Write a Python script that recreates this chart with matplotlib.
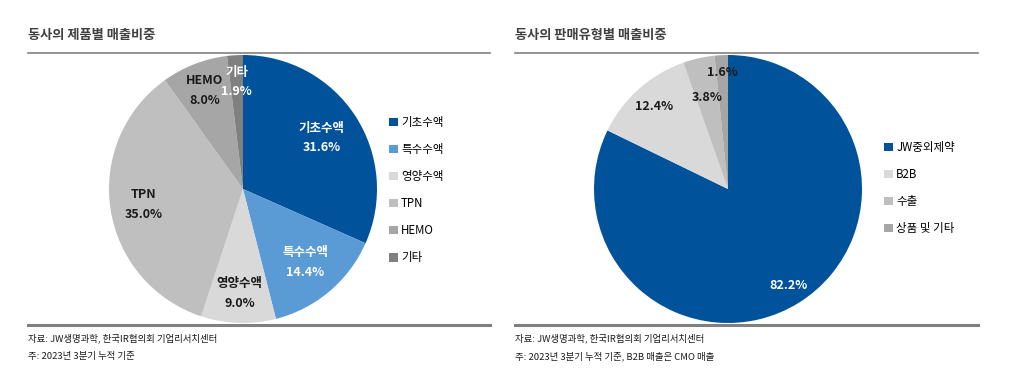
import numpy as np
import matplotlib.pyplot as plt
from matplotlib.lines import Line2D

plt.rcParams['font.family'] = ['Noto Sans CJK KR', 'DejaVu Sans']

# 제품별 매출비중
prod_labels = ['기초수액', '특수수액', '영양수액', 'TPN', 'HEMO', '기타']
prod_values = [31.6, 14.4, 9.0, 35.0, 8.0, 1.9]
prod_colors = ['#00539b', '#5b9bd5', '#d9d9d9', '#bfbfbf', '#a6a6a6', '#808080']

# 판매유형별 매출비중
chan_labels = ['JW중외제약', 'B2B', '수출', '상품 및 기타']
chan_values = [82.2, 12.4, 3.8, 1.6]
chan_colors = ['#00539b', '#d9d9d9', '#bfbfbf', '#a6a6a6']

W, H = 1013, 376
fig = plt.figure(figsize=(W / 100, H / 100), dpi=100)


def px_axes(cx, cy, r):
    return fig.add_axes([(cx - r) / W, (H - cy - r) / H, 2 * r / W, 2 * r / H])


def draw_pie(ax, values, colors, texts, tcolors, dists):
    wedges, _ = ax.pie(values, colors=colors, startangle=90, counterclock=False,
                       radius=1, wedgeprops=dict(linewidth=0))
    for w, t, c, d in zip(wedges, texts, tcolors, dists):
        ang = np.deg2rad((w.theta1 + w.theta2) / 2)
        ax.text(d * np.cos(ang), d * np.sin(ang), t, ha='center', va='center',
                color=c, fontsize=9, fontweight='bold', linespacing=1.65)
    ax.set_xlim(-1, 1)
    ax.set_ylim(-1, 1)
    ax.set_aspect('equal')
    ax.axis('off')
    return wedges


# left pie
ax1 = px_axes(243, 189, 134)
left_txt = [f'{l}\n{v:.1f}%' for l, v in zip(prod_labels, prod_values)]
w1 = draw_pie(ax1, prod_values, prod_colors, left_txt,
              ['white', 'white', '#1a1a1a', '#1a1a1a', '#1a1a1a', 'white'],
              [0.70, 0.72, 0.78, 0.75, 0.79, 0.80])

# right pie
ax2 = px_axes(728, 189, 134)
right_txt = [f'{v:.1f}%' for v in chan_values]
w2 = draw_pie(ax2, chan_values, chan_colors, right_txt,
              ['white', '#1a1a1a', '#1a1a1a', '#1a1a1a'],
              [0.85, 0.83, 0.70, 0.87])

# legends
leg_kw = dict(frameon=False, handlelength=0.75, handleheight=0.75, handletextpad=0.3,
              labelspacing=1.22, fontsize=8.3, borderaxespad=0, borderpad=0)
fig.legend(w1, prod_labels, loc='upper left', bbox_to_anchor=(389 / W, 1 - 116 / H), **leg_kw)
fig.legend(w2, chan_labels, loc='upper left', bbox_to_anchor=(884 / W, 1 - 141 / H), **leg_kw)

# titles, rules and notes
panels = [(28, 490, '동사의 제품별 매출비중',
           ['자료: JW생명과학, 한국IR협의회 기업리서치센터', '주: 2023년 3분기 누적 기준']),
          (515, 978, '동사의 판매유형별 매출비중',
           ['자료: JW생명과학, 한국IR협의회 기업리서치센터', '주: 2023년 3분기 누적 기준, B2B 매출은 CMO 매출'])]
for x0, x1, title, notes in panels:
    fig.text(x0 / W, 1 - 35 / H, title, fontsize=9.5, fontweight='bold',
             color='#404040', va='center', ha='left')
    fig.add_artist(Line2D([x0 / W, x1 / W], [1 - 53 / H] * 2, color='#808080', lw=1.2))
    fig.add_artist(Line2D([x0 / W, x1 / W], [1 - 325 / H] * 2, color='#808080', lw=2.2))
    fig.text(x0 / W, 1 - 338 / H, notes[0], fontsize=6.8, color='#1a1a1a', va='center')
    fig.text(x0 / W, 1 - 356 / H, notes[1], fontsize=6.8, color='#1a1a1a', va='center')

fig.savefig('out.png', dpi=100, facecolor='white')
